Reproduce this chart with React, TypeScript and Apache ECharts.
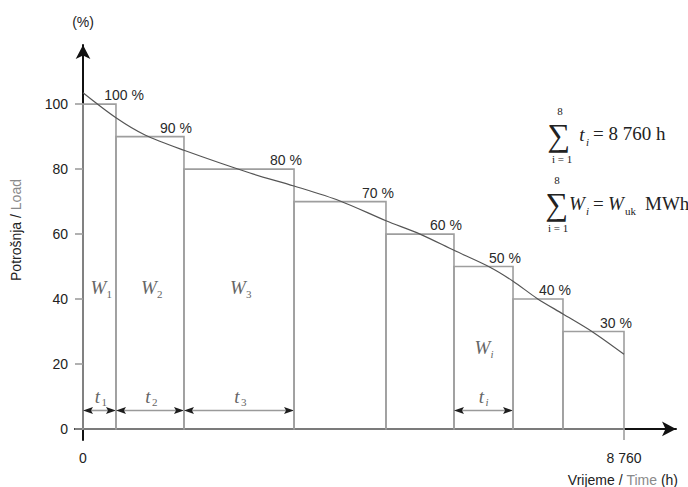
import React, { useEffect, useRef } from "react";
import * as echarts from "echarts";

// ---- data ----
const loadLevels = [100, 90, 80, 70, 60, 50, 40, 30];
const stepEnds = [534, 1635, 3417, 4906, 6007, 6963, 7772, 8760];
const stepLabels = ["100 %", "90 %", "80 %", "70 %", "60 %", "50 %", "40 %", "30 %"];
const energySubs = ["1", "2", "3", "", "", "i", "", ""];
const curveHours = [0, 534, 1004, 1635, 2704, 3417, 4162, 4906, 5457, 6007, 6590, 6963, 7352, 7772, 8258, 8760];
const curveLoad = [103.5, 95.8, 90.5, 85.8, 78.8, 74.8, 70.2, 64.1, 60, 55, 49.8, 45.5, 40.2, 35.4, 29.8, 23];
const yTicks = [0, 20, 40, 60, 80, 100];
const xTicks = [0, 8760];

const SANS = '"Liberation Sans", Arial, Helvetica, sans-serif';
const SERIF = '"Liberation Serif", "Times New Roman", "DejaVu Serif", serif';

export default function App() {
  const ref = useRef<HTMLDivElement>(null);
  useEffect(() => {
    document.body.style.margin = "0";
    const chart = echarts.init(ref.current!, null, { renderer: "svg" });

    const stepData = loadLevels.map((lv, i) => [i === 0 ? 0 : stepEnds[i - 1], stepEnds[i], lv]);
    const curveData = curveHours.map((h, i) => [h, curveLoad[i]]);

    const renderStep = (params: any, api: any) => {
      const i = params.dataIndex;
      const start = api.value(0);
      const end = api.value(1);
      const level = api.value(2);
      const p0 = api.coord([start, 0]);
      const p1 = api.coord([end, level]);
      const cx = (p0[0] + p1[0]) / 2;
      const children: any[] = [
        {
          type: "rect",
          shape: { x: p0[0], y: p1[1], width: p1[0] - p0[0], height: p0[1] - p1[1] },
          style: { fill: "none", stroke: "#9e9e9e", lineWidth: 1.6 },
        },
        {
          type: "text",
          x: p1[0] + (i === 0 ? 8 : -8),
          y: p1[1] - 9,
          style: {
            text: stepLabels[i],
            fontSize: 14,
            fontFamily: SANS,
            fill: "#2a2a2a",
            align: "center",
            verticalAlign: "middle",
          },
        },
      ];
      const sub = energySubs[i];
      if (sub) {
        const wy = api.coord([0, i === 5 ? 25 : 43.5])[1];
        children.push(
          {
            type: "text",
            x: cx - 1,
            y: wy,
            style: { text: "W", fontSize: 19, fontFamily: SERIF, fontStyle: "italic", fill: "#666", align: "center", verticalAlign: "middle" },
          },
          {
            type: "text",
            x: cx + 7,
            y: wy + 6,
            style: { text: sub, fontSize: 11, fontFamily: SERIF, fontStyle: sub === "i" ? "italic" : "normal", fill: "#666", align: "left", verticalAlign: "middle" },
          }
        );
        const ty = api.coord([0, 10])[1];
        children.push(
          {
            type: "text",
            x: cx - 2,
            y: ty,
            style: { text: "t", fontSize: 19, fontFamily: SERIF, fontStyle: "italic", fill: "#666", align: "center", verticalAlign: "middle" },
          },
          {
            type: "text",
            x: cx + 2,
            y: ty + 5,
            style: { text: sub, fontSize: 11, fontFamily: SERIF, fontStyle: sub === "i" ? "italic" : "normal", fill: "#666", align: "left", verticalAlign: "middle" },
          }
        );
        const ay = api.coord([0, 5.7])[1];
        const xa = p0[0];
        const xb = p1[0];
        const hl = 10;
        const hw = 3.6;
        children.push(
          { type: "line", shape: { x1: xa + 4, y1: ay, x2: xb - 4, y2: ay }, style: { stroke: "#9a9a9a", lineWidth: 1.6 } },
          { type: "polygon", shape: { points: [[xa, ay], [xa + hl, ay - hw], [xa + hl - 2, ay], [xa + hl, ay + hw]] }, style: { fill: "#1e1e1e" } },
          { type: "polygon", shape: { points: [[xb, ay], [xb - hl, ay - hw], [xb - hl + 2, ay], [xb - hl, ay + hw]] }, style: { fill: "#1e1e1e" } }
        );
      }
      return { type: "group", children };
    };

    const txt = (text: string, x: number, y: number, size: number, opts: any = {}) => ({
      type: "text",
      x,
      y,
      z: 10,
      style: {
        text,
        fontSize: size,
        fontFamily: opts.family || SERIF,
        fontStyle: opts.italic ? "italic" : "normal",
        fill: "#222",
        align: opts.align || "center",
        verticalAlign: "middle",
      },
    });

    const axisLineStyle = { color: "#111", width: 2 };
    const tickStyle = { color: "#9e9e9e", width: 1.6 };

    const option: any = {
      animation: false,
      grid: [
        { left: 83, right: 12, top: 45, bottom: 58, containLabel: false, outerBoundsMode: "none" },
        { left: 75, right: 12, top: 45, bottom: 47, containLabel: false, outerBoundsMode: "none" },
      ],
      xAxis: [
        {
          type: "value",
          gridIndex: 0,
          min: 0,
          max: 9602,
          splitLine: { show: false },
          axisLine: { show: false },
          axisTick: { show: true, customValues: [8760], length: 11, lineStyle: tickStyle },
          axisLabel: {
            customValues: xTicks,
            margin: 22,
            fontSize: 14,
            fontFamily: SANS,
            color: "#222",
            formatter: (v: number) => (v === 8760 ? "8 760" : String(v)),
          },
        },
        {
          type: "value",
          gridIndex: 1,
          min: -130,
          max: 9602,
          splitLine: { show: false },
          axisTick: { show: false },
          axisLabel: { show: false },
          axisLine: { show: true, onZero: true, symbol: ["none", "arrow"], symbolSize: [11, 14], lineStyle: axisLineStyle },
        },
      ],
      yAxis: [
        {
          type: "value",
          gridIndex: 0,
          min: 0,
          max: 118.2,
          splitLine: { show: false },
          axisLine: { show: false },
          axisTick: { show: true, customValues: yTicks, length: 8, lineStyle: tickStyle },
          axisLabel: { customValues: yTicks, margin: 15, fontSize: 14, fontFamily: SANS, color: "#222" },
        },
        {
          type: "value",
          gridIndex: 1,
          min: -3.4,
          max: 118.2,
          name: "(%)",
          nameLocation: "end",
          nameGap: 16,
          nameTextStyle: { fontSize: 14, fontFamily: SANS, color: "#222", align: "center" },
          splitLine: { show: false },
          axisTick: { show: false },
          axisLabel: { show: false },
          axisLine: { show: true, onZero: true, symbol: ["none", "arrow"], symbolSize: [11, 14], lineStyle: axisLineStyle },
        },
      ],
      series: [
        {
          type: "custom",
          xAxisIndex: 0,
          yAxisIndex: 0,
          renderItem: renderStep,
          data: stepData,
          clip: false,
          z: 2,
        },
        {
          type: "line",
          xAxisIndex: 0,
          yAxisIndex: 0,
          data: curveData,
          smooth: 0.3,
          symbol: "none",
          lineStyle: { color: "#555", width: 1.2 },
          z: 5,
        },
      ],
      graphic: [
        {
          type: "text",
          x: 16,
          y: 230,
          rotation: Math.PI / 2,
          style: {
            text: "{a|Potrošnja / }{b|Load}",
            fontSize: 14,
            fontFamily: SANS,
            align: "center",
            verticalAlign: "middle",
            rich: {
              a: { fill: "#222", color: "#222", fontSize: 14, fontFamily: SANS },
              b: { fill: "#8a8a8a", color: "#8a8a8a", fontSize: 14, fontFamily: SANS },
            },
          },
        },
        {
          type: "text",
          x: 678,
          y: 480,
          style: {
            text: "{a|Vrijeme / }{b|Time}{a| (h)}",
            fontSize: 14,
            fontFamily: SANS,
            align: "right",
            verticalAlign: "middle",
            rich: {
              a: { fill: "#222", color: "#222", fontSize: 14, fontFamily: SANS },
              b: { fill: "#8a8a8a", color: "#8a8a8a", fontSize: 14, fontFamily: SANS },
            },
          },
        },
        // formula 1
        txt("∑", 559, 135, 32),
        txt("8", 560, 111, 11),
        txt("i = 1", 562, 159, 11),
        txt("t", 582, 134, 19, { italic: true }),
        txt("i", 586, 142, 11, { italic: true, align: "left" }),
        txt("= 8 760 h", 593, 133, 19, { align: "left" }),
        // formula 2
        txt("∑", 557, 204, 32),
        txt("8", 557, 180, 11),
        txt("i = 1", 558, 228, 11),
        txt("W", 569, 203, 19, { italic: true, align: "left" }),
        txt("i", 586, 211, 11, { italic: true, align: "left" }),
        txt("=", 593, 203, 19, { align: "left" }),
        txt("W", 608, 203, 19, { italic: true, align: "left" }),
        txt("uk", 625, 211, 11, { align: "left" }),
        txt("MWh", 645, 203, 19, { align: "left" }),
      ],
    };
    chart.setOption(option);
    return () => chart.dispose();
  }, []);
  return <div ref={ref} style={{ width: 688, height: 487 }} />;
}
